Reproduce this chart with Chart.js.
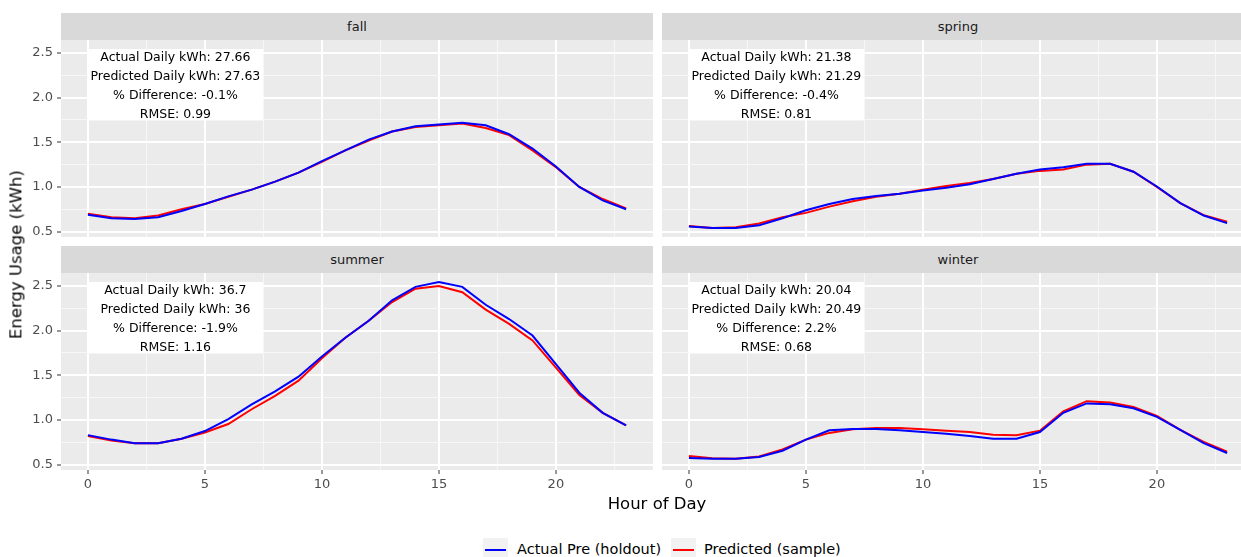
<!DOCTYPE html>
<html>
<head>
<meta charset="utf-8">
<script src="https://cdn.jsdelivr.net/npm/chart.js@4.4.1/dist/chart.umd.min.js"></script>
<style>
  body { margin:0; background:#fff; width:1241px; height:557px; overflow:hidden; position:relative; font-family:"DejaVu Sans", sans-serif; }
  canvas { position:absolute; }
  .strip { position:absolute; height:27px; background:#D9D9D9; color:#1A1A1A; font-size:13px; line-height:27px; text-align:center; }
  .title { position:absolute; font-size:16.5px; line-height:19.2px; color:#000; white-space:nowrap; text-align:center; }
  .key { position:absolute; top:538px; width:25px; height:23px; background:#F2F2F2; }
  .key span { position:absolute; left:2px; right:2px; top:11px; height:2px; }
  .ltext { position:absolute; top:538px; font-size:14.5px; line-height:23px; color:#000; white-space:nowrap; }
</style>
</head>
<body>
<div class="strip" style="left:61px;top:13px;width:592px">fall</div>
<div class="strip" style="left:662px;top:13px;width:592px">spring</div>
<div class="strip" style="left:61px;top:246px;width:592px">summer</div>
<div class="strip" style="left:662px;top:246px;width:592px">winter</div>

<canvas id="fall" width="653" height="197" style="left:0;top:40px"></canvas>
<canvas id="spring" width="592" height="197" style="left:662px;top:40px"></canvas>
<canvas id="summer" width="653" height="227" style="left:0;top:273px"></canvas>
<canvas id="winter" width="592" height="227" style="left:662px;top:273px"></canvas>

<div class="title" style="left:457px;top:494px;width:400px">Hour of Day</div>
<div class="title" style="left:-134px;top:245px;width:300px;transform:rotate(-90deg)">Energy Usage (kWh)</div>

<div class="key" style="left:483px"><span style="background:#0000FF"></span></div>
<div class="ltext" style="left:517px">Actual Pre (holdout)</div>
<div class="key" style="left:671px"><span style="background:#FF0000"></span></div>
<div class="ltext" style="left:704px">Predicted (sample)</div>

<script>
// hourly profiles per season
const hours = [0,1,2,3,4,5,6,7,8,9,10,11,12,13,14,15,16,17,18,19,20,21,22,23];
const xTicks = [0, 5, 10, 15, 20];
const yTicks = [0.5, 1.0, 1.5, 2.0, 2.5];

const fallActual    = [0.69,0.65,0.64,0.66,0.73,0.81,0.895,0.97,1.06,1.16,1.29,1.41,1.53,1.62,1.68,1.70,1.72,1.69,1.59,1.43,1.23,1.00,0.85,0.75];
const fallPredicted = [0.70,0.66,0.65,0.68,0.75,0.81,0.89,0.97,1.06,1.16,1.28,1.41,1.52,1.62,1.67,1.69,1.71,1.66,1.58,1.41,1.22,1.00,0.865,0.76];

const springActual    = [0.556,0.54,0.54,0.57,0.65,0.74,0.81,0.865,0.90,0.925,0.96,0.99,1.03,1.09,1.147,1.195,1.22,1.26,1.26,1.17,1.005,0.82,0.68,0.595];
const springPredicted = [0.564,0.54,0.55,0.59,0.66,0.71,0.78,0.84,0.89,0.925,0.97,1.01,1.045,1.09,1.147,1.18,1.195,1.25,1.26,1.17,1.0,0.82,0.685,0.61];

const summerActual    = [0.83,0.78,0.74,0.74,0.79,0.876,1.01,1.175,1.32,1.485,1.71,1.92,2.11,2.34,2.49,2.545,2.49,2.29,2.13,1.945,1.625,1.305,1.08,0.94];
const summerPredicted = [0.82,0.77,0.74,0.74,0.79,0.86,0.955,1.12,1.27,1.44,1.69,1.92,2.11,2.32,2.47,2.50,2.43,2.235,2.075,1.89,1.585,1.28,1.08,0.94];

const winterActual    = [0.575,0.565,0.565,0.585,0.655,0.78,0.885,0.90,0.90,0.885,0.865,0.845,0.82,0.79,0.79,0.865,1.08,1.185,1.175,1.13,1.035,0.89,0.74,0.63];
const winterPredicted = [0.597,0.57,0.565,0.59,0.67,0.78,0.855,0.895,0.91,0.91,0.895,0.88,0.865,0.835,0.83,0.88,1.095,1.21,1.195,1.145,1.045,0.89,0.755,0.645];

const fallNotes   = ['Actual Daily kWh: 27.66', 'Predicted Daily kWh: 27.63', '% Difference: -0.1%', 'RMSE: 0.99'];
const springNotes = ['Actual Daily kWh: 21.38', 'Predicted Daily kWh: 21.29', '% Difference: -0.4%', 'RMSE: 0.81'];
const summerNotes = ['Actual Daily kWh: 36.7', 'Predicted Daily kWh: 36', '% Difference: -1.9%', 'RMSE: 1.16'];
const winterNotes = ['Actual Daily kWh: 20.04', 'Predicted Daily kWh: 20.49', '% Difference: 2.2%', 'RMSE: 0.68'];

// major + minor grid positions (ggplot style)
const xGrid = [];
xTicks.forEach(v => xGrid.push(v, v + 2.5));
const yGrid = [];
yTicks.forEach((v, i) => { yGrid.push(v); if (i < yTicks.length - 1) yGrid.push((v + yTicks[i + 1]) / 2); });

// shared y range (ggplot adds 5% each side)
const allVals = [].concat(fallActual, fallPredicted, springActual, springPredicted, summerActual, summerPredicted, winterActual, winterPredicted);
const yLo = Math.min(...allVals), yHi = Math.max(...allVals);
const yPad = (yHi - yLo) * 0.05;
const xPad = (hours[hours.length - 1] - hours[0]) * 0.05;

const panelBg = {
  id: 'panelBg',
  beforeDraw(chart) {
    const { ctx, chartArea: a } = chart;
    ctx.save();
    ctx.fillStyle = '#EBEBEB';
    ctx.fillRect(a.left, a.top, a.right - a.left, a.bottom - a.top);
    ctx.restore();
  }
};

const noteBox = {
  id: 'noteBox',
  afterDraw(chart, args, opts) {
    const { ctx } = chart;
    const x0 = chart.scales.x.getPixelForValue(0);
    const y0 = chart.scales.y.getPixelForValue(yHi);
    ctx.save();
    ctx.fillStyle = '#FFFFFF';
    ctx.fillRect(x0, y0, 175, 71.5);
    ctx.fillStyle = '#000000';
    ctx.font = '12.5px "DejaVu Sans"';
    ctx.textAlign = 'center';
    ctx.textBaseline = 'middle';
    opts.lines.forEach((t, i) => ctx.fillText(t, x0 + 87.5, y0 + 8.7 + i * 18.9));
    ctx.restore();
  }
};

function noPad(s) {
  s.paddingTop = 0; s.paddingBottom = 0; s.paddingLeft = 0; s.paddingRight = 0;
}

function makePanel(id, actual, predicted, notes, showY, showX) {
  const isMajorX = v => xTicks.includes(v);
  const isMajorY = v => yTicks.includes(v);
  new Chart(document.getElementById(id), {
    type: 'line',
    data: {
      labels: hours,
      datasets: [
        { label: 'Actual Pre (holdout)', data: hours.map((h, i) => ({ x: h, y: actual[i] })), borderColor: '#0000FF', borderWidth: 2, pointRadius: 0, tension: 0 },
        { label: 'Predicted (sample)', data: hours.map((h, i) => ({ x: h, y: predicted[i] })), borderColor: '#FF0000', borderWidth: 2, pointRadius: 0, tension: 0 }
      ]
    },
    options: {
      responsive: false,
      animation: false,
      devicePixelRatio: 1,
      events: [],
      layout: { padding: 0 },
      plugins: { legend: { display: false }, tooltip: { enabled: false }, noteBox: { lines: notes } },
      scales: {
        x: {
          type: 'linear',
          min: hours[0] - xPad,
          max: hours[hours.length - 1] + xPad,
          afterBuildTicks: s => { s.ticks = xGrid.map(v => ({ value: v })); },
          afterFit: s => { s.height = showX ? 30 : 0; noPad(s); },
          border: { display: false },
          grid: {
            color: c => isMajorX(c.tick.value) ? '#FFFFFF' : '#F7F7F7',
            lineWidth: c => isMajorX(c.tick.value) ? 2 : 1,
            drawTicks: showX,
            tickLength: 4,
            tickColor: c => isMajorX(c.tick.value) ? '#333333' : 'rgba(0,0,0,0)',
            tickWidth: 1
          },
          ticks: {
            display: showX,
            autoSkip: false,
            maxRotation: 0,
            padding: 3,
            color: '#4D4D4D',
            font: { family: 'DejaVu Sans', size: 13 },
            callback: v => isMajorX(v) ? String(v) : ''
          }
        },
        y: {
          type: 'linear',
          min: yLo - yPad,
          max: yHi + yPad,
          afterBuildTicks: s => { s.ticks = yGrid.map(v => ({ value: v })); },
          afterFit: s => { s.width = showY ? 61 : 0; noPad(s); },
          border: { display: false },
          grid: {
            color: c => isMajorY(c.tick.value) ? '#FFFFFF' : '#F7F7F7',
            lineWidth: c => isMajorY(c.tick.value) ? 2 : 1,
            drawTicks: showY,
            tickLength: 4,
            tickColor: c => isMajorY(c.tick.value) ? '#333333' : 'rgba(0,0,0,0)',
            tickWidth: 1
          },
          ticks: {
            display: showY,
            autoSkip: false,
            padding: 4,
            color: '#4D4D4D',
            font: { family: 'DejaVu Sans', size: 13 },
            callback: v => isMajorY(v) ? v.toFixed(1) : ''
          }
        }
      }
    },
    plugins: [panelBg, noteBox]
  });
}

makePanel('fall', fallActual, fallPredicted, fallNotes, true, false);
makePanel('spring', springActual, springPredicted, springNotes, false, false);
makePanel('summer', summerActual, summerPredicted, summerNotes, true, true);
makePanel('winter', winterActual, winterPredicted, winterNotes, false, true);
</script>
</body>
</html>
